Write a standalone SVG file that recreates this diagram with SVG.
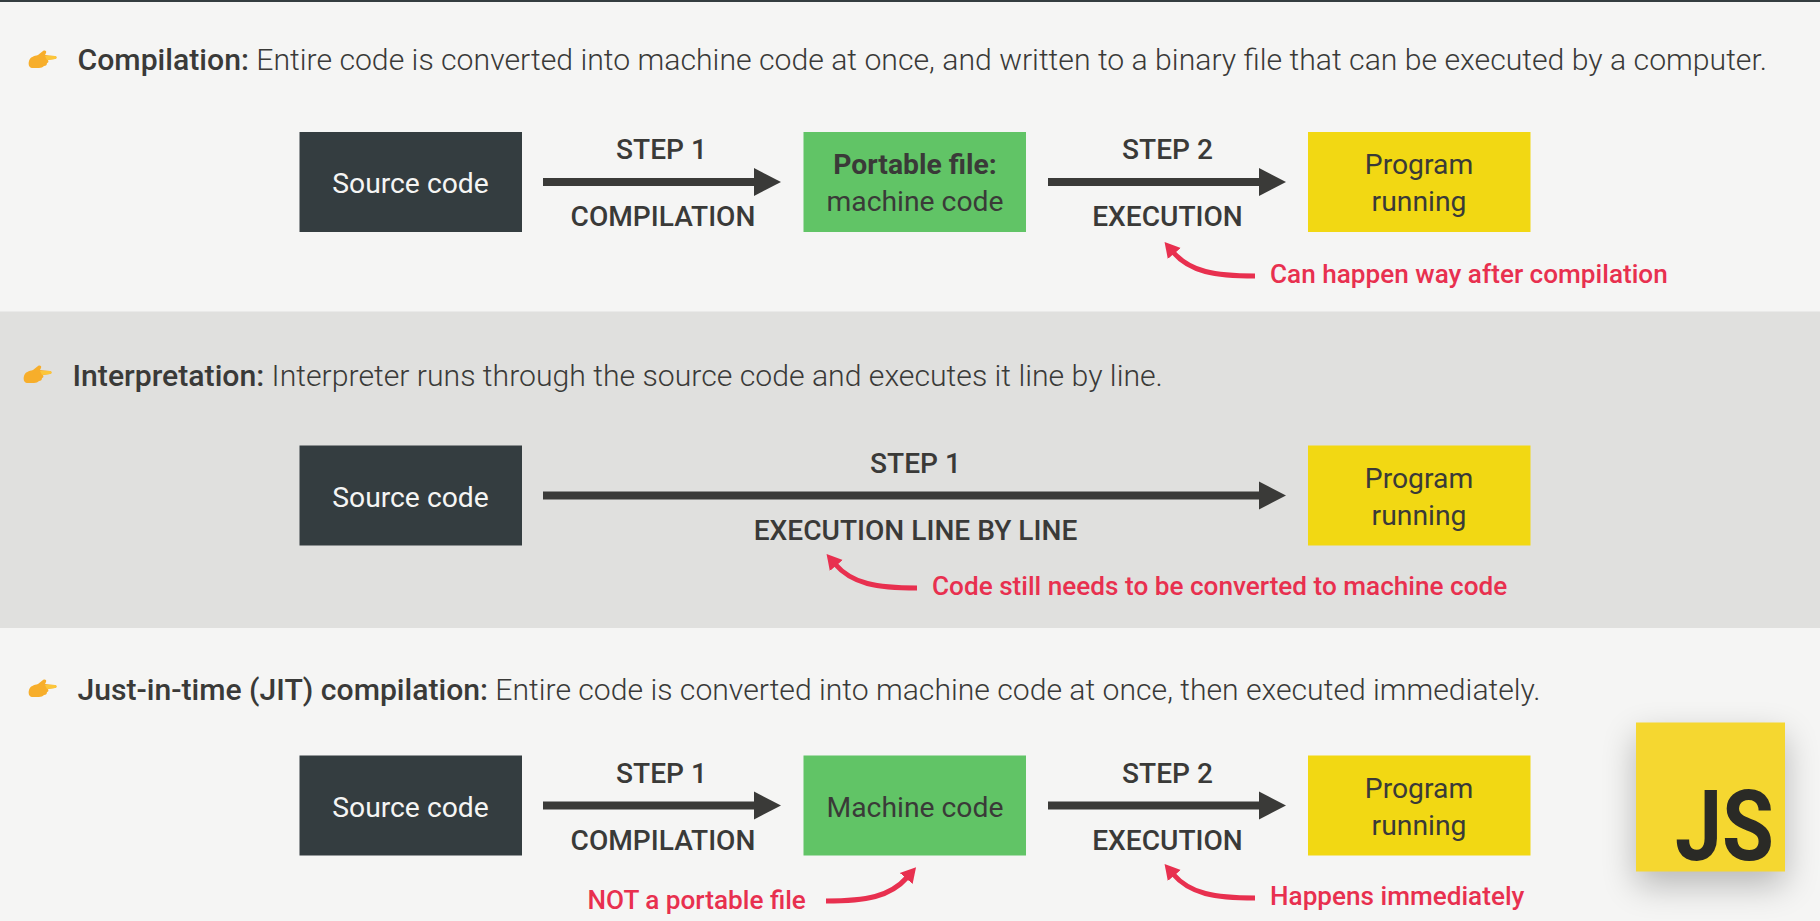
<svg xmlns="http://www.w3.org/2000/svg" width="1820" height="921" viewBox="0 0 1820 921">
<style>
text{font-family:Roboto,"Liberation Sans",sans-serif;fill:#3a3a38}
.h{font-size:30.2px;font-weight:300}
.h3{font-size:30.15px}
.h tspan{font-weight:500}
.s{font-size:28.1px;font-weight:500;text-anchor:middle}
.n{font-size:28.3px;text-anchor:middle}
.r{font-size:26.15px;font-weight:500;fill:#e8304f}
.dark{fill:#343d40}.green{fill:#61c466}.yellow{fill:#f2d813}
.a{stroke:#3a3a38;stroke-width:8;fill:none;marker-end:url(#big)}
.c{stroke:#e8304f;stroke-width:5;fill:none;marker-end:url(#red)}
</style>
<defs>
<marker id="big" markerUnits="userSpaceOnUse" markerWidth="30" markerHeight="30" refX="1" refY="15" orient="auto"><path d="M0 1L27 15L0 29Z" fill="#3a3a38"/></marker>
<marker id="red" markerUnits="userSpaceOnUse" markerWidth="24" markerHeight="24" refX="2" refY="12" orient="auto"><path d="M0 3.5L15 12L0 20.5Z" fill="#e8304f"/></marker>
<g id="hand"><path d="M0 11C1 7 5 6 9 5L14 1C16 0 18 1 17 3L16 5L26 6C28 6 28 9 26 9L19 10C20 12 19 13 18 13C18 15 17 16 15 16C14 17 12 18 10 18L3 18C0 18-1 14 0 11Z" fill="#f7ae2b"/><path d="M16 6L26 6C28 6 28 9 26 9L18 10Z" fill="#fcc63a"/></g>
<filter id="sh" x="-50%" y="-50%" width="200%" height="200%"><feGaussianBlur stdDeviation="17"/></filter>
</defs>
<rect width="1820" height="921" fill="#f5f5f4"/>
<rect y="311.5" width="1820" height="316.5" fill="#e0e0de"/>
<rect width="1820" height="2" fill="#343d40"/>
<g id="section-1-heading"><use href="#hand" x="29" y="50"/><text class="h" x="77.5" y="70"><tspan>Compilation:</tspan> Entire code is converted into machine code at once, and written to a binary file that can be executed by a computer.</text></g>
<g id="section-2-heading"><use href="#hand" x="24" y="365"/><text class="h" x="72.5" y="386"><tspan>Interpretation:</tspan> Interpreter runs through the source code and executes it line by line.</text></g>
<g id="section-3-heading"><use href="#hand" x="29" y="679"/><text class="h h3" x="77.5" y="700"><tspan>Just-in-time (JIT) compilation:</tspan> Entire code is converted into machine code at once, then executed immediately.</text></g>
<g id="connectors">
<path class="a" d="M543 182H755"/><path class="a" d="M1048 182H1260"/>
<path class="a" d="M543 495.5H1260"/>
<path class="a" d="M543 805.5H755"/><path class="a" d="M1048 805.5H1260"/>
<path class="c" d="M1255 276C1215 276 1190 272 1173 252"/>
<path class="c" d="M917 588C877 588 852 584 835 564"/>
<path class="c" d="M1255 898C1215 898 1190 894 1173 874"/>
<path class="c" d="M826 901C866 901 890 897 907.5 877"/>
</g>
<g id="labels">
<text class="s" x="661.5" y="159">STEP 1</text><text class="s" x="663" y="226">COMPILATION</text>
<text class="s" x="1167.5" y="159">STEP 2</text><text class="s" x="1167.5" y="226">EXECUTION</text>
<text class="s" x="915.5" y="473">STEP 1</text><text class="s" x="915.5" y="540">EXECUTION LINE BY LINE</text>
<text class="s" x="661.5" y="783">STEP 1</text><text class="s" x="663" y="850">COMPILATION</text>
<text class="s" x="1167.5" y="783">STEP 2</text><text class="s" x="1167.5" y="850">EXECUTION</text>
<text class="r" x="1270" y="283">Can happen way after compilation</text>
<text class="r" x="932" y="595">Code still needs to be converted to machine code</text>
<text class="r" x="587.5" y="909">NOT a portable file</text>
<text class="r" x="1270" y="905">Happens immediately</text>
</g>
<g id="n1"><rect class="dark" x="299.5" y="132" width="222.5" height="100"/><text class="n" x="410.5" y="193" style="fill:#f5f5f4">Source code</text></g>
<g id="n2"><rect class="green" x="803.5" y="132" width="222.5" height="100"/><text class="n" x="915" y="174" style="font-weight:700">Portable file:</text><text class="n" x="915" y="211">machine code</text></g>
<g id="n3"><rect class="yellow" x="1308" y="132" width="222.5" height="100"/><text class="n" x="1419" y="174">Program</text><text class="n" x="1419" y="211">running</text></g>
<g id="n4"><rect class="dark" x="299.5" y="445.5" width="222.5" height="100"/><text class="n" x="410.5" y="506.5" style="fill:#f5f5f4">Source code</text></g>
<g id="n5"><rect class="yellow" x="1308" y="445.5" width="222.5" height="100"/><text class="n" x="1419" y="487.5">Program</text><text class="n" x="1419" y="524.5">running</text></g>
<g id="n6"><rect class="dark" x="299.5" y="755.5" width="222.5" height="100"/><text class="n" x="410.5" y="816.5" style="fill:#f5f5f4">Source code</text></g>
<g id="n7"><rect class="green" x="803.5" y="755.5" width="222.5" height="100"/><text class="n" x="915" y="816.5">Machine code</text></g>
<g id="n8"><rect class="yellow" x="1308" y="755.5" width="222.5" height="100"/><text class="n" x="1419" y="797.5">Program</text><text class="n" x="1419" y="834.5">running</text></g>
<g id="js-logo"><rect x="1636" y="736" width="149" height="149" fill="#000" opacity=".25" filter="url(#sh)"/><rect x="1636" y="722.5" width="149" height="149" fill="#f5d730"/><text x="1675" y="860" textLength="99" lengthAdjust="spacingAndGlyphs" style="font-family:Roboto,sans-serif;font-size:98px;font-weight:700;fill:#2a2a26">JS</text></g>
</svg>
